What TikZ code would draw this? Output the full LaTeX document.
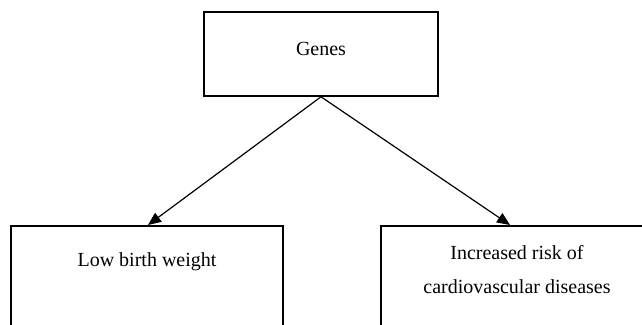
\documentclass[tikz,border=0pt]{standalone}
\usepackage{fontspec}
\setmainfont{Liberation Serif}
\usetikzlibrary{arrows.meta,positioning}
\tikzstyle{box}=[rectangle,draw=black,line width=0.8pt,inner sep=0pt]
\tikzstyle{lbl}=[align=center,font=\fontsize{10}{17}\selectfont,inner sep=0pt]
\tikzstyle{arr}=[line width=0.6pt,-{Triangle[length=6.5pt,width=5.5pt]}]

\begin{document}
\begin{tikzpicture}[x=0.5pt,y=-0.5pt]
    \useasboundingbox (0,0) rectangle (642,325);
    \clip (0,0) rectangle (642,325);
    \node [style=box,minimum width=117pt,minimum height=42pt] (genes) at (321,54) {};
    \node [style=lbl] (genestxt) at (321,49) {Genes};
    \node [style=box,anchor=north,minimum width=136pt,minimum height=80pt] (lbw) at (147,225) {};
    \node [style=lbl] (lbwtxt) at (147,262) {Low birth weight};
    \node [style=box,anchor=north,minimum width=136pt,minimum height=80pt] (risk) at (517,225) {};
    \node [style=lbl] (risktxt) at (517,270) {Increased risk of\\cardiovascular diseases};
    \draw [style=arr] (genes.south) to ([xshift=0.5pt]lbw.north);
    \draw [style=arr] (genes.south) to ([xshift=-3.5pt]risk.north);
\end{tikzpicture}
\end{document}
